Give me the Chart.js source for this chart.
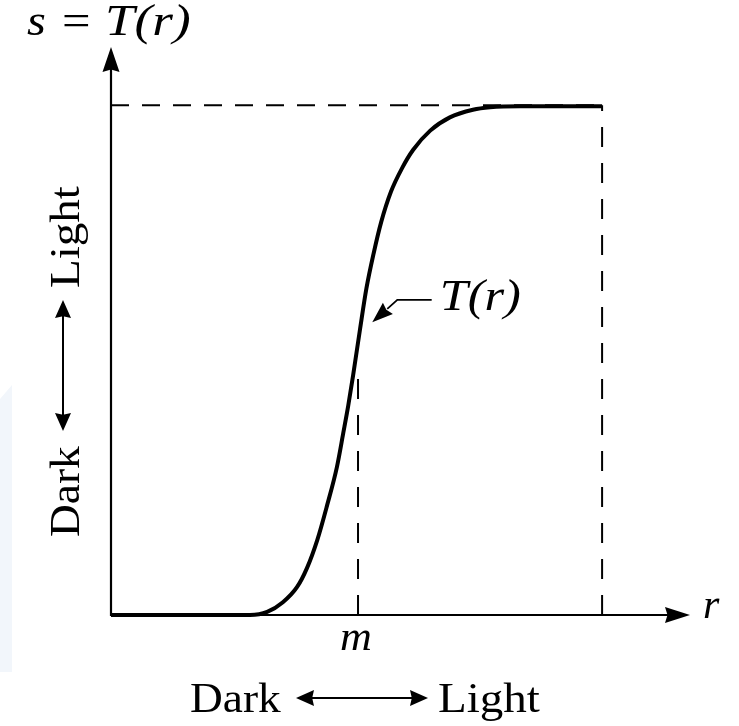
<!DOCTYPE html>
<html>
<head>
<meta charset="utf-8">
<script src="https://cdn.jsdelivr.net/npm/chart.js@4"></script>
<style>
  html, body { margin: 0; padding: 0; background: #ffffff; }
  #wrap { position: relative; width: 739px; height: 726px; }
  #shade { position: absolute; left: 0; top: 385px; width: 12px; height: 287px; background: #f2f6fb;
           clip-path: polygon(0 14px, 12px 0, 12px 100%, 0 100%); }
  canvas { position: absolute; left: 0; top: 0; }
</style>
</head>
<body>
<div id="wrap">
  <div id="shade"></div>
  <canvas id="c" width="739" height="726"></canvas>
</div>
<script>
// ---- data (r = input gray level, s = T(r) output level; 1 = maximum level) ----
const rValues = [0, 0.283, 0.318, 0.350, 0.379, 0.399, 0.420, 0.440, 0.460, 0.473, 0.483, 0.493,
                 0.507, 0.520, 0.535, 0.550, 0.570, 0.593, 0.615, 0.650, 0.690, 0.737, 0.772, 0.833, 1.0];
const sValues = [0, 0, 0.006, 0.025, 0.055, 0.092, 0.147, 0.215, 0.290, 0.357, 0.410, 0.470,
                 0.560, 0.640, 0.710, 0.770, 0.830, 0.877, 0.912, 0.950, 0.976, 0.991, 0.996, 0.998, 0.998];
const mValue = 0.503;          // position of m on the r axis
const mLineTop = 0.47;         // top of the dashed line at m
const maxLevel = 1.0;          // top / right dashed guide level
const xAxisMax = 1.179;
const yAxisMax = 1.114;

const labelTop = "s = T(r)";
const labelCurve = "T(r)";
const labelM = "m";
const labelR = "r";
const labelDark = "Dark";
const labelLight = "Light";

const curveData = rValues.map((r, i) => ({ x: r, y: sValues[i] }));

const SERIF = '"Liberation Serif", "DejaVu Serif", serif';

function txt(ctx, s, x, y, size, italic, sx) {
  ctx.save();
  ctx.font = (italic ? 'italic ' : '') + size + 'px ' + SERIF;
  ctx.fillStyle = '#000';
  ctx.textBaseline = 'alphabetic';
  ctx.textAlign = 'left';
  ctx.translate(x, y);
  ctx.scale(sx || 1.1, 1);
  ctx.fillText(s, 0, 0);
  const w = ctx.measureText(s).width * (sx || 1.1);
  ctx.restore();
  return w;
}

function head(ctx, tipX, tipY, dx, dy, len, half) {
  const bx = tipX - dx * len, by = tipY - dy * len;
  const px = -dy, py = dx;
  ctx.beginPath();
  ctx.moveTo(tipX, tipY);
  ctx.lineTo(bx + px * half, by + py * half);
  ctx.lineTo(bx + dx * len * 0.1, by + dy * len * 0.1);
  ctx.lineTo(bx - px * half, by - py * half);
  ctx.closePath();
  ctx.fill();
}

const decor = {
  id: 'decor',
  afterDatasetsDraw(chart) {
    const ctx = chart.ctx;
    const xs = chart.scales.x, ys = chart.scales.y;
    const x0 = xs.getPixelForValue(0), y0 = ys.getPixelForValue(0);
    const xEnd = xs.getPixelForValue(xAxisMax), yEnd = ys.getPixelForValue(yAxisMax);
    ctx.save();
    ctx.strokeStyle = '#000';
    ctx.fillStyle = '#000';
    ctx.lineWidth = 2.2;
    ctx.lineCap = 'butt';
    // axes
    ctx.beginPath();
    ctx.moveTo(x0, yEnd + 12); ctx.lineTo(x0, y0 + 1);
    ctx.moveTo(x0 - 1, y0); ctx.lineTo(xEnd - 12, y0);
    ctx.stroke();
    head(ctx, x0, yEnd, 0, -1, 25, 8.5);
    head(ctx, xEnd, y0, 1, 0, 25, 8);

    // axis labels
    txt(ctx, labelR, xEnd + 13, y0 + 3, 42, true, 1.0);
    const mx = xs.getPixelForValue(mValue);
    ctx.save();
    ctx.font = 'italic 42px ' + SERIF;
    const mw = ctx.measureText(labelM).width * 1.05;
    ctx.restore();
    txt(ctx, labelM, mx - mw / 2 - 2, y0 + 35, 42, true, 1.05);

    // top label s = T(r)
    txt(ctx, 's', 27, 35, 44, true, 1.1);
    txt(ctx, '=', 62, 35, 44, false, 1.15);
    txt(ctx, labelTop.slice(4), 105, 35, 45, true, 1.18);

    // curve label with pointer
    const tip = { x: xs.getPixelForValue(0.532), y: ys.getPixelForValue(0.574) };
    const lineY = ys.getPixelForValue(0.618);
    const lineX1 = xs.getPixelForValue(0.653);
    const lineX0 = xs.getPixelForValue(0.583);
    ctx.lineWidth = 1.8;
    const dxh = tip.x - lineX0, dyh = tip.y - lineY;
    const dl = Math.hypot(dxh, dyh);
    ctx.beginPath();
    ctx.moveTo(lineX1, lineY); ctx.lineTo(lineX0, lineY);
    ctx.lineTo(lineX0 + dxh * 0.4, lineY + dyh * 0.4);
    ctx.stroke();
    head(ctx, tip.x, tip.y, dxh / dl, dyh / dl, 21, 7.5);
    txt(ctx, labelCurve, lineX1 + 8, lineY + 10, 45, true, 1.12);

    // bottom Dark <-> Light
    ctx.lineWidth = 2;
    const by = 712;
    txt(ctx, labelDark, 190, by, 42, false, 1.08);
    const a0 = 296, a1 = 428, ay = by - 14;
    ctx.beginPath(); ctx.moveTo(a0 + 8, ay); ctx.lineTo(a1 - 8, ay); ctx.stroke();
    head(ctx, a0, ay, -1, 0, 18, 8);
    head(ctx, a1, ay, 1, 0, 18, 8);
    txt(ctx, labelLight, 438, by, 42, false, 1.12);

    // left rotated Dark <-> Light
    ctx.save();
    ctx.translate(79, 537);
    ctx.rotate(-Math.PI / 2);
    txt(ctx, labelDark, 0, 0, 42, false, 1.08);
    const b0 = 106, b1 = 237, byy = -16;
    ctx.beginPath(); ctx.moveTo(b0 + 8, byy); ctx.lineTo(b1 - 8, byy); ctx.stroke();
    head(ctx, b0, byy, -1, 0, 18, 8);
    head(ctx, b1, byy, 1, 0, 18, 8);
    txt(ctx, labelLight, 249, 0, 42, false, 1.12);
    ctx.restore();

    ctx.restore();
  }
};

new Chart(document.getElementById('c'), {
  type: 'line',
  data: {
    datasets: [
      { data: curveData, borderColor: '#000', borderWidth: 4, pointRadius: 0,
        cubicInterpolationMode: 'monotone', clip: false, order: 0 },
      { data: [{ x: 0, y: maxLevel }, { x: maxLevel, y: maxLevel }], borderColor: '#000', borderWidth: 2,
        borderDash: [18, 13], pointRadius: 0, clip: false, order: 1 },
      { data: [{ x: maxLevel, y: 0 }, { x: maxLevel, y: maxLevel }], borderColor: '#000', borderWidth: 2,
        borderDash: [20, 16], pointRadius: 0, clip: false, order: 1 },
      { data: [{ x: mValue, y: 0 }, { x: mValue, y: mLineTop }], borderColor: '#000', borderWidth: 2,
        borderDash: [20, 16], pointRadius: 0, clip: false, order: 1 }
    ]
  },
  options: {
    responsive: false,
    animation: false,
    events: [],
    layout: { padding: { left: 111, right: 49, top: 47, bottom: 111 } },
    plugins: { legend: { display: false }, tooltip: { enabled: false } },
    scales: {
      x: { type: 'linear', min: 0, max: xAxisMax, display: false },
      y: { type: 'linear', min: 0, max: yAxisMax, display: false }
    }
  },
  plugins: [decor]
});
</script>
</body>
</html>
